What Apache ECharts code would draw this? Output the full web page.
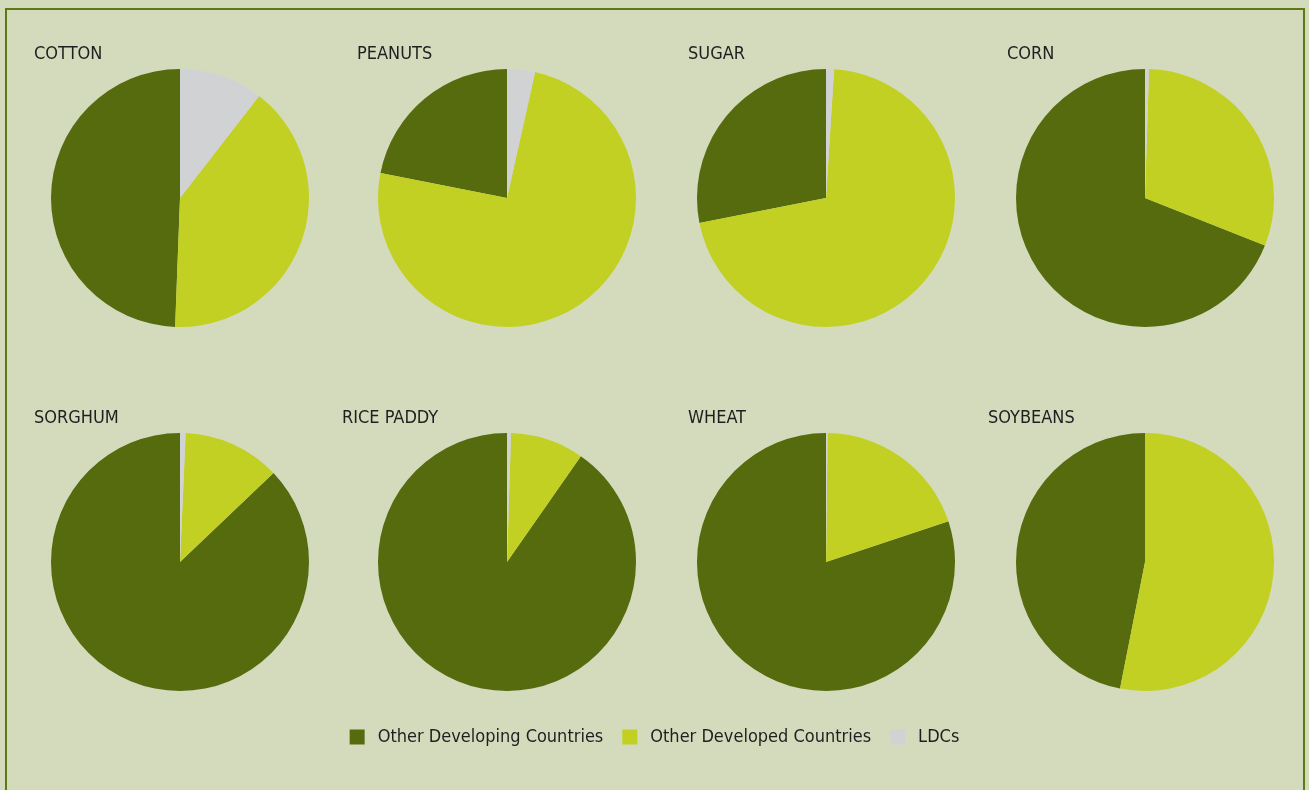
<!DOCTYPE html>
<html>
<head>
<meta charset="utf-8">
<script src="https://cdn.jsdelivr.net/npm/echarts@6/dist/echarts.min.js"></script>
<style>
  html, body { margin: 0; padding: 0; background: #d4dbbd; }
  #frame { position: absolute; left: 5px; top: 8px; width: 1296px; height: 800px;
           border: 2px solid #5b7a10; border-bottom: none; box-sizing: content-box; }
  #chart { position: absolute; left: 0; top: 0; width: 1309px; height: 790px; }
</style>
</head>
<body>
<div id="frame"></div>
<div id="chart"></div>
<script>
const crops = ['COTTON', 'PEANUTS', 'SUGAR', 'CORN', 'SORGHUM', 'RICE PADDY', 'WHEAT', 'SOYBEANS'];
const groups = ['Other Developing Countries', 'Other Developed Countries', 'LDCs'];
const developing = [49.4, 21.9, 28.1, 69.0, 87.1, 90.3, 80.1, 46.9];
const developed  = [40.1, 74.6, 70.9, 30.5, 12.2,  9.2, 19.7, 53.1];
const ldcs       = [10.5,  3.5,  1.0,  0.5,  0.7,  0.5,  0.2,  0.0];

const colors = ['#556b0e', '#c1d023', '#d1d2d4'];
const centersX = [180, 507, 826, 1145];
const centersY = [198, 562];
const titleX = [29, 352, 683, 1002, 29, 337, 683, 983];
const titleY = [40, 404];
const font = '"DejaVu Sans Condensed", "DejaVu Sans", sans-serif';

const chart = echarts.init(document.getElementById('chart'), null, { renderer: 'canvas' });

const titles = crops.map((c, i) => ({
  text: c,
  left: titleX[i],
  top: titleY[Math.floor(i / 4)],
  textStyle: { fontFamily: font, fontSize: 18, fontWeight: 'normal', color: '#1f1f1f' }
}));

const series = crops.map((c, i) => ({
  type: 'pie',
  name: c,
  center: [centersX[i % 4], centersY[Math.floor(i / 4)]],
  radius: [0, 129],
  startAngle: 90,
  clockwise: false,
  label: { show: false },
  labelLine: { show: false },
  emphasis: { disabled: true },
  itemStyle: { borderWidth: 0 },
  silent: true,
  data: [
    { name: groups[0], value: developing[i] },
    { name: groups[1], value: developed[i] },
    { name: groups[2], value: ldcs[i] }
  ]
}));

chart.setOption({
  animation: false,
  backgroundColor: 'transparent',
  color: colors,
  title: titles,
  legend: {
    data: groups,
    left: 'center',
    top: 723,
    icon: 'rect',
    itemWidth: 15,
    itemHeight: 15,
    itemGap: 19,
    textStyle: { fontFamily: font, fontSize: 18, color: '#1f1f1f', padding: [0, 0, 0, 8] }
  },
  series: series
});
</script>
</body>
</html>
